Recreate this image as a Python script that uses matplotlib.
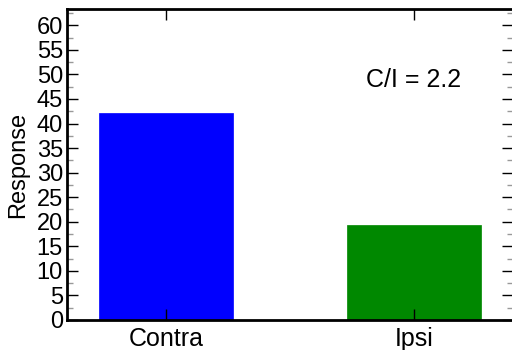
import numpy as np
import matplotlib
matplotlib.use("Agg")
import matplotlib.pyplot as plt
from matplotlib.ticker import MultipleLocator

# datos
categorias = ["Contra", "Ipsi"]
respuestas = [42.2, 19.4]
colores = ["#0000ff", "#008800"]
ratio = 2.2

plt.rcParams['font.family'] = ['Liberation Sans', 'DejaVu Sans']

fig = plt.figure(figsize=(5.12, 3.5), dpi=100)
ax = fig.add_axes([0.131, 0.086, 0.871, 0.888])

pos = np.arange(len(categorias))
ax.bar(pos, respuestas, width=0.54, color=colores, edgecolor=colores, linewidth=0.5)

ax.text(1.0, 48.8, "C/I = %.1f" % ratio, ha='center', va='center', fontsize=18)

ax.set_xlim(-0.4, 1.4)
ax.set_ylim(0, 63.3)
ax.set_xticks(pos)
ax.set_xticklabels(categorias, fontsize=18)
ax.yaxis.set_major_locator(MultipleLocator(5))
ax.yaxis.set_minor_locator(MultipleLocator(2.5))
ax.set_ylabel("Response", fontsize=17, labelpad=5)

for lab in ax.get_yticklabels():
    lab.set_fontsize(17)

ax.tick_params(axis='both', which='both', direction='in', top=True, right=True)
ax.tick_params(axis='y', which='major', length=8, width=1, pad=3)
ax.tick_params(axis='y', which='minor', length=4, width=1, color='#999999')
ax.tick_params(axis='x', which='major', length=8, width=1, pad=5)
for sp in ax.spines.values():
    sp.set_linewidth(2)

fig.savefig("out.png", dpi=100)
